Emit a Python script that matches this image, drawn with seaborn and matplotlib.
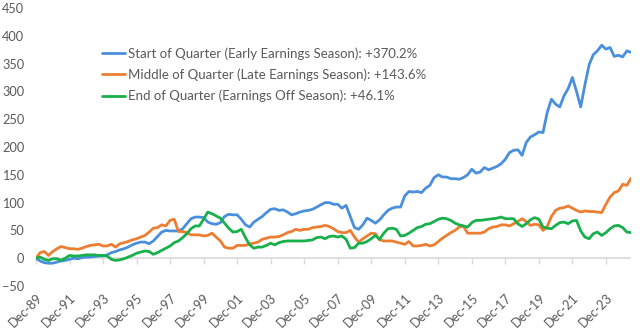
import numpy as np
import pandas as pd
import matplotlib
matplotlib.use("Agg")
import matplotlib.pyplot as plt
import matplotlib.dates as mdates
import seaborn as sns

# ---- data (quarterly, Dec-89 .. Jun-25) ----
start_q = [0, -5, -8, -9, -9, -7, -5, -4, -2, 0, -1, 1, 2, 2, 3, 4, 4, 6, 10, 12,
           15, 17, 20, 24, 27, 29, 29, 26, 31, 39, 47, 50, 49, 49, 49, 53, 62, 71, 74, 74,
           73, 65, 62, 61, 64, 75, 79, 78, 78, 70, 60, 56, 65, 70, 75, 82, 88, 89, 86, 87,
           83, 78, 80, 83, 85, 86, 88, 92, 96, 100, 100, 97, 97, 90, 95, 75, 55, 52, 60, 72,
           68, 63, 69, 78, 86, 90, 92, 92, 112, 120, 119, 120, 118, 126, 131, 145, 150, 146, 146, 143,
           143, 142, 145, 150, 160, 153, 155, 163, 159, 162, 165, 170, 178, 190, 194, 195, 185, 208, 218, 222,
           227, 226, 262, 286, 277, 272, 292, 305, 325, 300, 272, 312, 348, 366, 373, 383, 376, 379, 363, 365,
           362, 373, 370.2]
middle_q = [0, 10, 12, 5, 12, 17, 21, 19, 17, 17, 16, 18, 21, 23, 24, 25, 22, 22, 25, 20,
            26, 28, 30, 33, 35, 38, 41, 47, 54, 55, 60, 58, 68, 70, 48, 48, 46, 42, 42, 42,
            40, 41, 45, 38, 31, 20, 18, 18, 23, 23, 23, 26, 27, 29, 34, 36, 38, 38, 39, 42,
            46, 48, 52, 50, 52, 52, 55, 56, 57, 59, 57, 53, 48, 46, 46, 50, 38, 29, 35, 40,
            45, 44, 33, 31, 31, 31, 29, 27, 25, 30, 22, 22, 23, 25, 22, 24, 30, 36, 41, 46,
            50, 56, 58, 45, 45, 45, 45, 47, 53, 56, 57, 60, 60, 58, 62, 66, 71, 66, 59, 61,
            60, 50, 57, 75, 86, 90, 91, 94, 90, 86, 83, 85, 84, 84, 83, 82, 97, 110, 118, 121,
            133, 131, 143.6]
end_q = [0, 2, -2, -4, -1, -1, -4, 0, 5, 4, 4, 5, 6, 6, 6, 5, 5, 4, -2, -4,
         -3, -1, 2, 5, 9, 11, 13, 12, 7, 10, 14, 18, 22, 28, 31, 37, 44, 53, 58, 58,
         70, 83, 80, 76, 72, 63, 54, 47, 48, 52, 37, 24, 18, 20, 20, 23, 27, 24, 28, 30,
         31, 31, 31, 31, 31, 32, 33, 37, 38, 35, 39, 40, 38, 40, 34, 18, 19, 27, 27, 30,
         35, 41, 34, 45, 53, 54, 52, 40, 41, 45, 50, 55, 57, 61, 62, 66, 70, 72, 71, 68,
         63, 60, 58, 56, 64, 68, 68, 69, 70, 71, 72, 74, 71, 71, 71, 62, 57, 62, 69, 73,
         70, 56, 54, 53, 59, 64, 65, 62, 67, 68, 49, 38, 35, 44, 47, 41, 46, 53, 58, 59,
         55, 47, 46.1]

series_names = ["Start of Quarter (Early Earnings Season): +370.2%",
                "Middle of Quarter (Late Earnings Season): +143.6%",
                "End of Quarter (Earnings Off Season): +46.1%"]
colors = ["#4A8FDC", "#ED7D31", "#17B04A"]
y_ticks = list(range(-50, 451, 50))

dates = pd.date_range("1989-12-31", periods=len(start_q), freq="QE")
df = pd.DataFrame({
    "date": np.tile(dates, 3),
    "value": start_q + middle_q + end_q,
    "series": np.repeat(series_names, len(dates)),
})

# ---- figure ----
sns.set_theme(style="white")
plt.rcParams["font.family"] = ["Lato", "DejaVu Sans"]
fig = plt.figure(figsize=(6.4, 3.31), dpi=100)
ax = fig.add_axes([36 / 640, 1 - 286 / 331, (631 - 36) / 640, (286 - 8) / 331])

sns.lineplot(data=df, x="date", y="value", hue="series", palette=colors,
             linewidth=2.0, ax=ax, legend=True)

ax.set_xlim(dates[0], dates[-1])
ax.set_ylim(-50, 450)
ax.set_yticks(y_ticks)
ax.set_xticks(dates[::8])
ax.xaxis.set_major_formatter(mdates.DateFormatter("%b-%y"))
ax.set_xlabel("")
ax.set_ylabel("")
for s in ax.spines.values():
    s.set_visible(False)
ax.tick_params(axis="y", length=0, pad=8.5, labelsize=9.2, labelcolor="#595959")
ax.tick_params(axis="x", length=0, pad=4, labelsize=9.2, labelcolor="#595959")
for lbl in ax.get_xticklabels():
    lbl.set_rotation(45)
    lbl.set_ha("right")
    lbl.set_rotation_mode("anchor")

ax.axhline(0, color="#D9D9D9", linewidth=1.2, zorder=0.5)
sec = ax.secondary_xaxis(0.1)
sec.set_xticks(dates[::8])
sec.set_xticklabels([])
sec.spines["bottom"].set_visible(False)
sec.tick_params(axis="x", direction="out", length=4, width=1, color="#D9D9D9")

leg = ax.legend(loc="upper left", bbox_to_anchor=(101.5 / 640, 1 - 47 / 331),
                bbox_transform=fig.transFigure, frameon=False, borderpad=0,
                borderaxespad=0, fontsize=9.5, handlelength=1.75, handletextpad=0.25,
                labelspacing=0.67, labelcolor="#595959")
for line in leg.get_lines():
    line.set_linewidth(2.0)

fig.savefig("out.png", dpi=100)
